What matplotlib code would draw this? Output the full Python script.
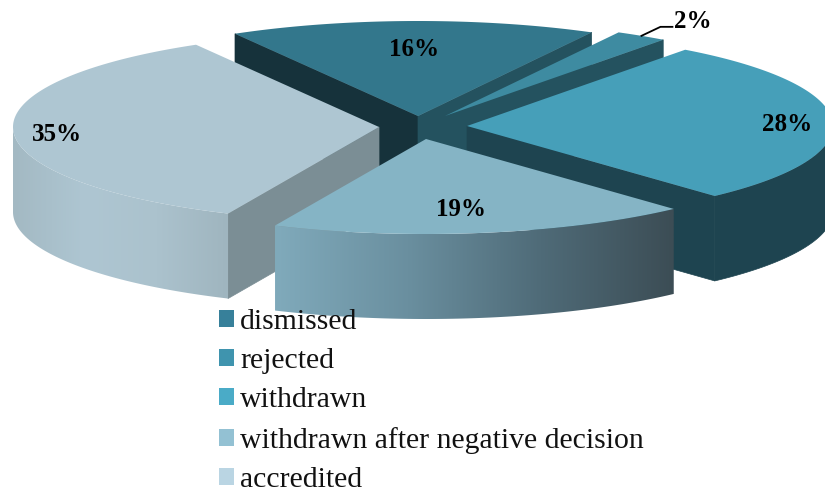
import numpy as np
import matplotlib
matplotlib.use('Agg')
import matplotlib.pyplot as plt
from matplotlib.patches import Polygon, Patch
from matplotlib.colors import LinearSegmentedColormap

categories = ['dismissed', 'rejected', 'withdrawn', 'withdrawn after negative decision', 'accredited']
# shares estimated from the slice edges, the labels are the rounded ones
values = [16.2, 2.3, 28.0, 18.6, 34.9]
labels = ['16%', '2%', '28%', '19%', '35%']

top_colors = ['#33778C', '#3E8BA1', '#469FB9', '#85B4C5', '#AEC6D2']
legend_colors = ['#37809A', '#3F94AE', '#4AABC7', '#93C1D3', '#BAD5E3']
# wall colours: first radial edge, second radial edge
edge_colors = [('#16323B', '#24525F'), ('#24525F', '#24525F'), ('#1E4450', '#1E4450'),
               ('#6A8E9E', '#6A8E9E'), ('#7B8E95', '#7B8E95')]
rim_colors = [['#24525F'], ['#24525F'], ['#1E4450'],
              ['#80AABB', '#6A8F9F', '#4F6B78', '#3C4D55'],
              ['#A3B9C3', '#AEC6D2', '#ABC2CD', '#9FB5BF']]

# apex of every exploded slice in picture pixels
apex = [(418, 116), (445, 116), (467, 126), (426, 139), (379, 127)]
label_frac = [0.73, None, 0.875, 0.72, 0.88]
label_dx = [0, 0, 0, -7, 0]
draw_order = [0, 1, 2, 4, 3]

RX, RY, DEPTH = 366, 95, 85
START = -30.0

fig = plt.figure(figsize=(8.25, 4.93), dpi=100)
ax = fig.add_axes([0, 0, 1, 1])
ax.axis('off')

shares = np.array(values) / sum(values) * 360
ends = START + np.cumsum(shares)
starts = ends - shares


def point(c, a, frac=1.0):
    t = np.radians(a)
    return c[0] + frac * RX * np.sin(t), c[1] - frac * RY * np.cos(t)


z = 1
for i in draw_order:
    c = apex[i]
    ang = np.linspace(starts[i], ends[i], 120)
    arc = [point(c, a) for a in ang]

    # radial walls, only those that face the viewer
    if np.sin(np.radians(starts[i])) < 0:
        e = arc[0]
        wall = [c, e, (e[0], e[1] + DEPTH), (c[0], c[1] + DEPTH)]
        ax.add_patch(Polygon(wall, closed=True, fc=edge_colors[i][0], ec=edge_colors[i][0], lw=0.5, zorder=z))
    if np.sin(np.radians(ends[i])) > 0:
        e = arc[-1]
        wall = [c, e, (e[0], e[1] + DEPTH), (c[0], c[1] + DEPTH)]
        ax.add_patch(Polygon(wall, closed=True, fc=edge_colors[i][1], ec=edge_colors[i][1], lw=0.5, zorder=z))
    z += 1

    # only the front half of the rim can be seen
    lo, hi = max(starts[i], 90), min(ends[i], 270)
    if lo < hi:
        front = [point(c, a) for a in np.linspace(lo, hi, 120)]
        rim = front + [(x, y + DEPTH) for x, y in front[::-1]]
        if len(rim_colors[i]) == 1:
            ax.add_patch(Polygon(rim, closed=True, fc=rim_colors[i][0], ec=rim_colors[i][0], lw=0.5, zorder=z))
        else:
            rim_patch = Polygon(rim, closed=True, fc='none', ec='none', zorder=z)
            ax.add_patch(rim_patch)
            xs = [p[0] for p in front]
            cmap = LinearSegmentedColormap.from_list('rim%d' % i, rim_colors[i])
            im = ax.imshow(np.linspace(0, 1, 256).reshape(1, -1), extent=[min(xs), max(xs), 493, 0],
                           cmap=cmap, aspect='auto', zorder=z, interpolation='bilinear')
            im.set_clip_path(rim_patch)
        z += 1

    ax.add_patch(Polygon([c] + arc, closed=True, fc=top_colors[i], ec='none', zorder=z))
    z += 1

ax.set_xlim(0, 825)
ax.set_ylim(493, 0)

font = 'Liberation Serif'
for i, lab in enumerate(labels):
    mid = (starts[i] + ends[i]) / 2
    if label_frac[i] is None:
        x0, y0 = point(apex[i], mid)
        ax.plot([x0, x0 + 19, x0 + 31], [y0, y0 - 9, y0 - 9], color='black', lw=1.3, zorder=z)
        ax.text(x0 + 33, y0 - 14, lab, fontsize=18, fontweight='bold', family=font,
                ha='left', va='center', zorder=z)
    else:
        x0, y0 = point(apex[i], mid, label_frac[i])
        ax.text(x0 + label_dx[i], y0 + 3, lab, fontsize=18, fontweight='bold', family=font,
                ha='center', va='center', zorder=z)

handles = [Patch(fc=col, ec='none', label=cat) for col, cat in zip(legend_colors, categories)]
leg = ax.legend(handles=handles, loc='upper left', bbox_to_anchor=(219 / 825, 1 - 309 / 493),
                frameon=False, prop={'family': font, 'size': 21.4}, handlelength=0.505, handleheight=0.505,
                handletextpad=0.2, labelspacing=0.445, borderpad=0, borderaxespad=0)
leg.set_zorder(z + 1)
for t in leg.get_texts():
    t.set_color('#111111')

fig.savefig('out.png', dpi=100)
